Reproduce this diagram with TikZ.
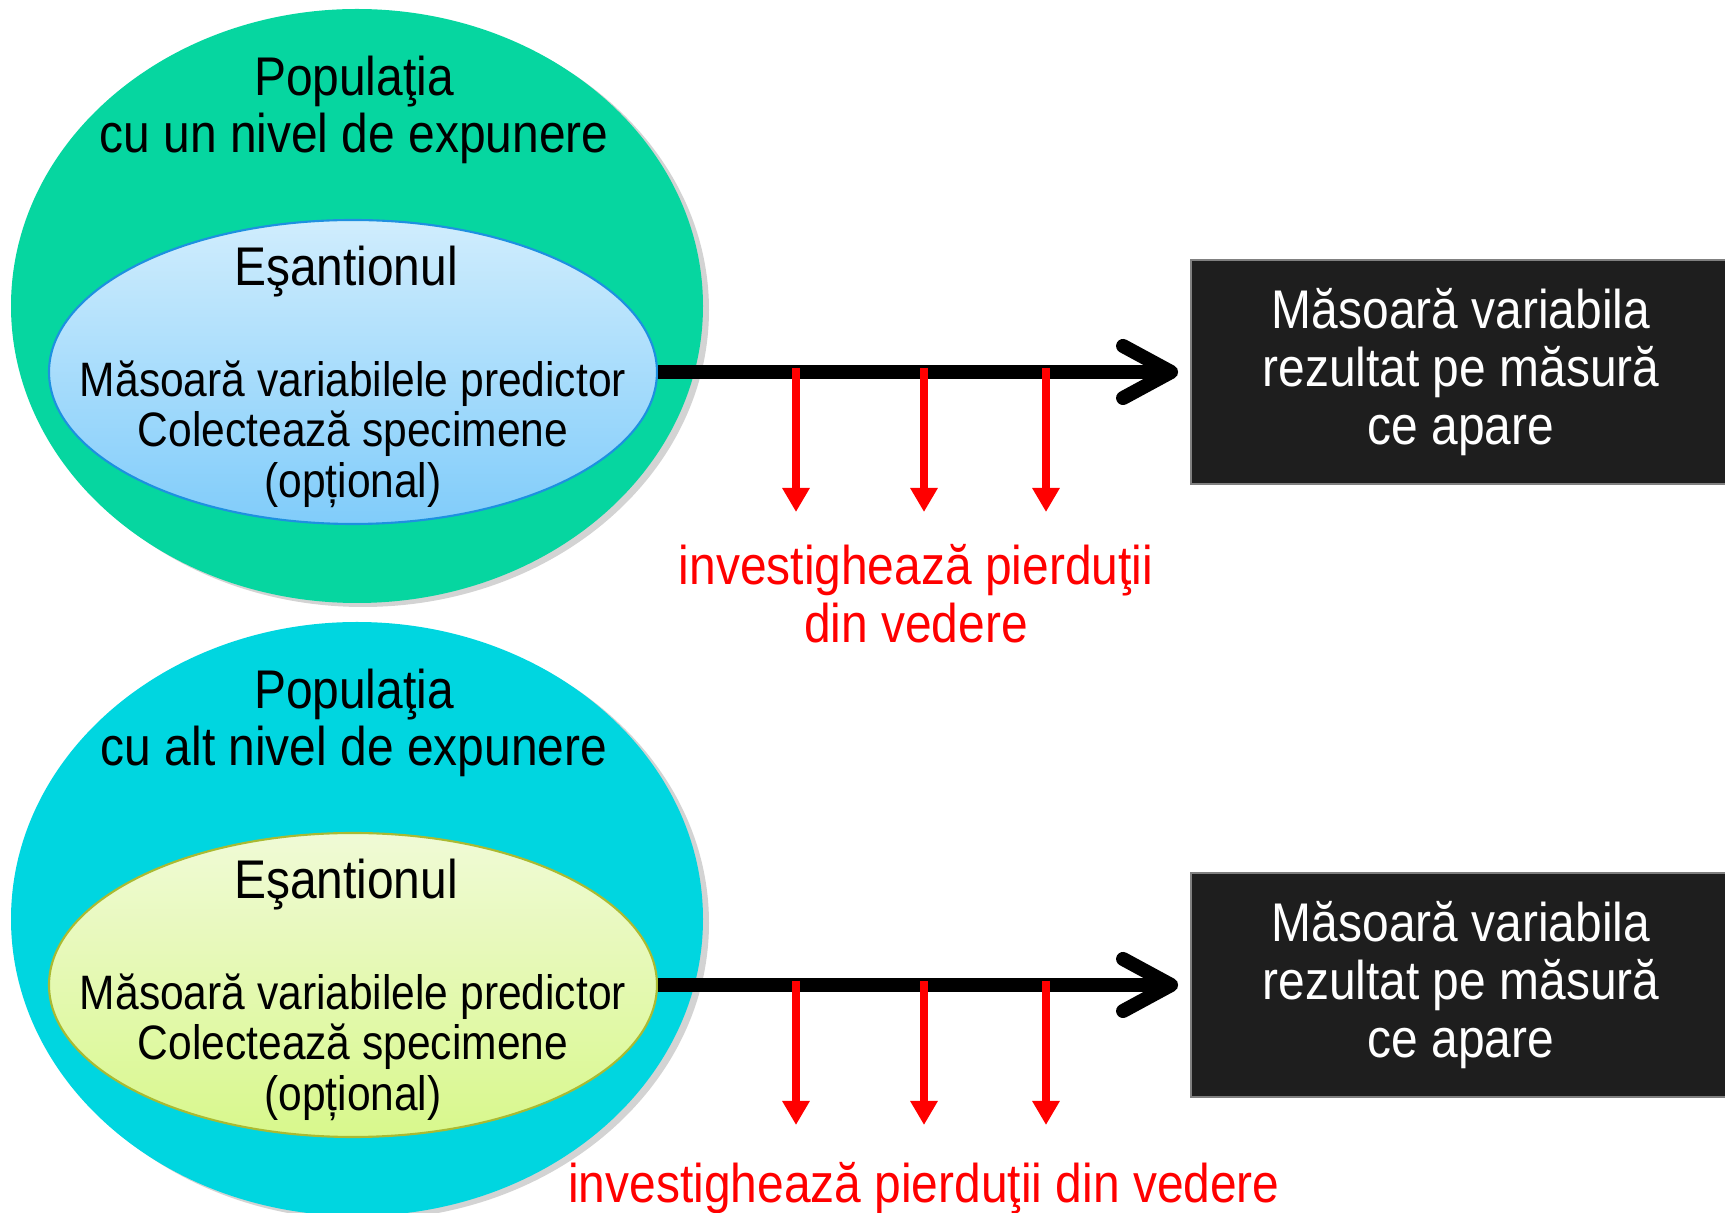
\documentclass[tikz,border=0pt]{standalone}
\usepackage{fontspec}
\setmainfont{Liberation Sans}[FakeStretch=0.88]
\usetikzlibrary{arrows.meta,positioning,shapes.geometric,shadows}
\definecolor{popgreen}{RGB}{6,214,160}
\definecolor{popcyan}{RGB}{0,214,224}
\definecolor{sampblue}{RGB}{30,144,224}
\definecolor{sampbluetop}{RGB}{208,237,253}
\definecolor{sampbluebot}{RGB}{128,204,250}
\definecolor{sampgreentop}{RGB}{240,250,214}
\definecolor{sampgreenbot}{RGB}{216,248,140}
\definecolor{sampolive}{RGB}{170,186,50}
\definecolor{boxdark}{RGB}{30,30,30}
\definecolor{lossred}{RGB}{255,0,0}
\newcommand{\popfont}{\fontsize{15.5}{16.4}\selectfont}
\newcommand{\sampfont}{\fontsize{13.75}{14.4}\selectfont}

\begin{document}
\begin{tikzpicture}[
  pop/.style={ellipse, minimum width=6.92cm, minimum height=5.94cm, inner sep=0pt,
    drop shadow={shadow xshift=0.06cm, shadow yshift=-0.04cm, opacity=0.35}},
  sample/.style={ellipse, minimum width=6.08cm, minimum height=3.04cm, inner sep=0pt,
    line width=0.6pt},
  outcome/.style={rectangle, fill=boxdark, draw=gray, line width=0.5pt,
    minimum width=5.4cm, minimum height=2.24cm, text=white, font=\popfont, align=center},
  title/.style={font=\popfont, align=center},
  measure/.style={font=\sampfont, align=center},
  lost/.style={font=\popfont, text=lossred, align=center},
  mainarrow/.style={-{Straight Barb[length=4.8mm, width=5.2mm, round]}, line width=4pt},
  lossarrow/.style={-{Triangle[length=2.4mm, width=2.6mm]}, line width=2.3pt, lossred},
]
\useasboundingbox (0,0) rectangle (17.25,-12.13);

% Upper cohort
\node[pop, fill=popgreen] (pop1) at (3.57,-3.06) {};
\node[sample, draw=sampblue, top color=sampbluetop, bottom color=sampbluebot] (samp1) at (3.53,-3.72) {};
\node[title] (ttl1) at (3.54,-1.10) {Populaţia\\cu un nivel de expunere};
\node[title] (esa1) at (3.46,-2.72) {Eşantionul};
\node[measure] (meas1) at (3.53,-4.34) {Măsoară variabilele predictor\\Colectează specimene\\(opțional)};
\node[outcome] (out1) at (14.61,-3.72) {Măsoară variabila\\rezultat pe măsură\\ce apare};

\draw[mainarrow, shorten >=0.12cm] (samp1.east) -- (out1.west);

\coordinate (l1a) at (7.96,-3.68);  \coordinate (l1b) at (7.96,-5.12);
\coordinate (l2a) at (9.24,-3.68);  \coordinate (l2b) at (9.24,-5.12);
\coordinate (l3a) at (10.46,-3.68); \coordinate (l3b) at (10.46,-5.12);
\draw[lossarrow] (l1a) -- (l1b);
\draw[lossarrow] (l2a) -- (l2b);
\draw[lossarrow] (l3a) -- (l3b);
\node[lost] (lost1) at (9.16,-5.935) {investighează pierduţii\\din vedere};

% Lower cohort
\node[pop, fill=popcyan] (pop2) at (3.57,-9.19) {};
\node[sample, draw=sampolive, top color=sampgreentop, bottom color=sampgreenbot] (samp2) at (3.53,-9.85) {};
\node[title] (ttl2) at (3.54,-7.23) {Populaţia\\cu alt nivel de expunere};
\node[title] (esa2) at (3.46,-8.85) {Eşantionul};
\node[measure] (meas2) at (3.53,-10.47) {Măsoară variabilele predictor\\Colectează specimene\\(opțional)};
\node[outcome] (out2) at (14.61,-9.85) {Măsoară variabila\\rezultat pe măsură\\ce apare};

\draw[mainarrow, shorten >=0.12cm] (samp2.east) -- (out2.west);

\coordinate (m1a) at (7.96,-9.81);  \coordinate (m1b) at (7.96,-11.25);
\coordinate (m2a) at (9.24,-9.81);  \coordinate (m2b) at (9.24,-11.25);
\coordinate (m3a) at (10.46,-9.81); \coordinate (m3b) at (10.46,-11.25);
\draw[lossarrow] (m1a) -- (m1b);
\draw[lossarrow] (m2a) -- (m2b);
\draw[lossarrow] (m3a) -- (m3b);
\node[lost] (lost2) at (9.24,-11.88) {investighează pierduţii din vedere};

\end{tikzpicture}
\end{document}
